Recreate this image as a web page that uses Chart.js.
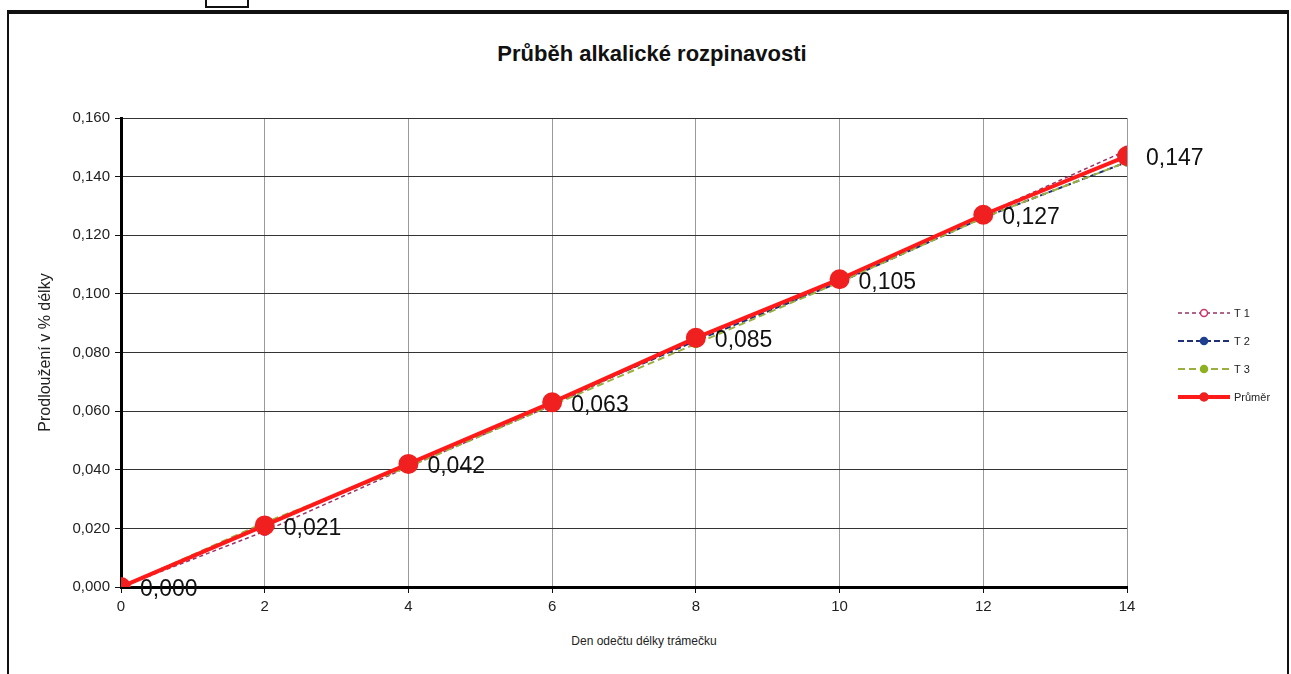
<!DOCTYPE html>
<html>
<head>
<meta charset="utf-8">
<script src="https://cdn.jsdelivr.net/npm/chart.js@4.4.0/dist/chart.umd.min.js"></script>
<style>
  html, body { margin: 0; padding: 0; background: #fff; }
  #wrap { position: relative; width: 1291px; height: 674px; overflow: hidden; }
  #frame { position: absolute; left: 7px; top: 10px; width: 1278px; height: 680px;
           border-top: 4px solid #111; border-left: 2px solid #111; border-right: 2px solid #111; }
  #tab { position: absolute; left: 205px; top: -2px; width: 40px; height: 6px; border: 2px solid #111; }
  #title { position: absolute; left: 0; width: 1304px; top: 41px; text-align: center;
           font: bold 22px "Liberation Sans", Arial, sans-serif; color: #111; }
  #xtitle { position: absolute; left: 0; width: 1288px; top: 634px; text-align: center;
            font: 12px "Liberation Sans", Arial, sans-serif; color: #222; }
  canvas { position: absolute; left: 0; top: 0; }
</style>
</head>
<body>
<div id="wrap">
  <div id="frame"></div>
  <div id="tab"></div>
  <div id="title">Průběh alkalické rozpinavosti</div>
  <div id="xtitle">Den odečtu délky trámečku</div>
  <canvas id="chart" width="1291" height="674"></canvas>
</div>
<script>
// day of reading, and elongation in % for each beam + average
const days = [0, 2, 4, 6, 8, 10, 12, 14];
const t1 = [0.000, 0.019, 0.041, 0.062, 0.085, 0.104, 0.127, 0.149];
const t2 = [0.000, 0.021, 0.042, 0.063, 0.084, 0.104, 0.126, 0.145];
const t3 = [0.000, 0.022, 0.041, 0.062, 0.083, 0.104, 0.126, 0.145];
const prumer = [0.000, 0.021, 0.042, 0.063, 0.085, 0.105, 0.127, 0.147];

const fmt = v => v.toFixed(3).replace('.', ',');
const pts = arr => days.map((d, i) => ({ x: d, y: arr[i] }));

// value labels next to the average points
const valueLabels = {
    id: 'valueLabels',
    afterDatasetsDraw(chart) {
        const ctx = chart.ctx;
        const idx = chart.data.datasets.findIndex(d => d.label === 'Průměr');
        const meta = chart.getDatasetMeta(idx);
        ctx.save();
        ctx.font = '23px "Liberation Sans", Arial, sans-serif';
        ctx.fillStyle = '#111';
        ctx.textBaseline = 'middle';
        meta.data.forEach((p, i) => {
            ctx.fillText(fmt(prumer[i]), p.x + 19, p.y + 3);
        });
        ctx.restore();
    }
};

// legend in the Excel style: line + marker + text
const sideLegend = {
    id: 'sideLegend',
    afterDraw(chart) {
        const ctx = chart.ctx;
        const x0 = 1178, x1 = 1230, tx = 1234;
        const ys = [313, 341, 369, 397];
        ctx.save();
        ctx.font = '11px "Liberation Sans", Arial, sans-serif';
        ctx.textBaseline = 'middle';
        chart.data.datasets.forEach((ds, i) => {
            const y = ys[i];
            ctx.strokeStyle = ds.borderColor;
            ctx.lineWidth = ds.borderWidth;
            ctx.setLineDash(ds.borderDash || []);
            ctx.beginPath();
            ctx.moveTo(x0, y);
            ctx.lineTo(x1, y);
            ctx.stroke();
            ctx.setLineDash([]);
            ctx.beginPath();
            ctx.arc((x0 + x1) / 2, y, ds.label === 'Průměr' ? 4 : 3.5, 0, Math.PI * 2);
            ctx.fillStyle = ds.pointBackgroundColor;
            ctx.fill();
            ctx.lineWidth = 1.5;
            ctx.strokeStyle = ds.pointBorderColor;
            ctx.stroke();
            ctx.fillStyle = '#222';
            ctx.fillText(ds.label, tx, y + 1);
        });
        ctx.restore();
    }
};

const ctx = document.getElementById('chart').getContext('2d');
new Chart(ctx, {
    type: 'line',
    data: {
        datasets: [{
            label: 'T 1',
            data: pts(t1),
            borderColor: '#993366',
            borderWidth: 1.5,
            borderDash: [4, 3],
            pointRadius: 4,
            pointBackgroundColor: '#fff',
            pointBorderColor: '#cc3366',
            pointBorderWidth: 1.5,
            order: 3
        }, {
            label: 'T 2',
            data: pts(t2),
            borderColor: '#1f2f7a',
            borderWidth: 2,
            borderDash: [6, 3],
            pointRadius: 3.5,
            pointBackgroundColor: '#1f3f8f',
            pointBorderColor: '#1f3f8f',
            order: 2
        }, {
            label: 'T 3',
            data: pts(t3),
            borderColor: '#99b040',
            borderWidth: 2,
            borderDash: [7, 4],
            pointRadius: 3.5,
            pointBackgroundColor: '#8fb020',
            pointBorderColor: '#8fb020',
            order: 1
        }, {
            label: 'Průměr',
            data: pts(prumer),
            borderColor: '#ff1a1a',
            borderWidth: 4,
            pointRadius: 8,
            pointBackgroundColor: '#f02020',
            pointBorderColor: '#f02020',
            order: 0
        }]
    },
    options: {
        responsive: false,
        animation: false,
        layout: { padding: { left: 20, right: 164, top: 118, bottom: 20 } },
        plugins: {
            legend: { display: false },
            tooltip: { enabled: false },
            title: { display: false }
        },
        scales: {
            x: {
                type: 'linear',
                min: 0,
                max: 14,
                ticks: {
                    stepSize: 2,
                    color: '#222',
                    padding: 5,
                    font: { family: '"Liberation Sans", Arial, sans-serif', size: 15 }
                },
                grid: { color: '#9a9a9a', lineWidth: 1, tickLength: 6, tickColor: '#111' },
                border: { color: '#000', width: 3 },
                afterFit(scale) { scale.height = 67; }
            },
            y: {
                min: 0,
                max: 0.16,
                ticks: {
                    stepSize: 0.02,
                    color: '#222',
                    padding: 5,
                    font: { family: '"Liberation Sans", Arial, sans-serif', size: 15 },
                    callback: v => fmt(v)
                },
                grid: { color: '#333', lineWidth: 1, tickLength: 6, tickColor: '#111' },
                border: { color: '#000', width: 3 },
                title: {
                    display: true,
                    text: 'Prodloužení v % délky',
                    color: '#222',
                    font: { family: '"Liberation Sans", Arial, sans-serif', size: 16 },
                    padding: { top: 16, bottom: 0 }
                },
                afterFit(scale) { scale.width = 101; }
            }
        }
    },
    plugins: [valueLabels, sideLegend]
});
</script>
</body>
</html>
